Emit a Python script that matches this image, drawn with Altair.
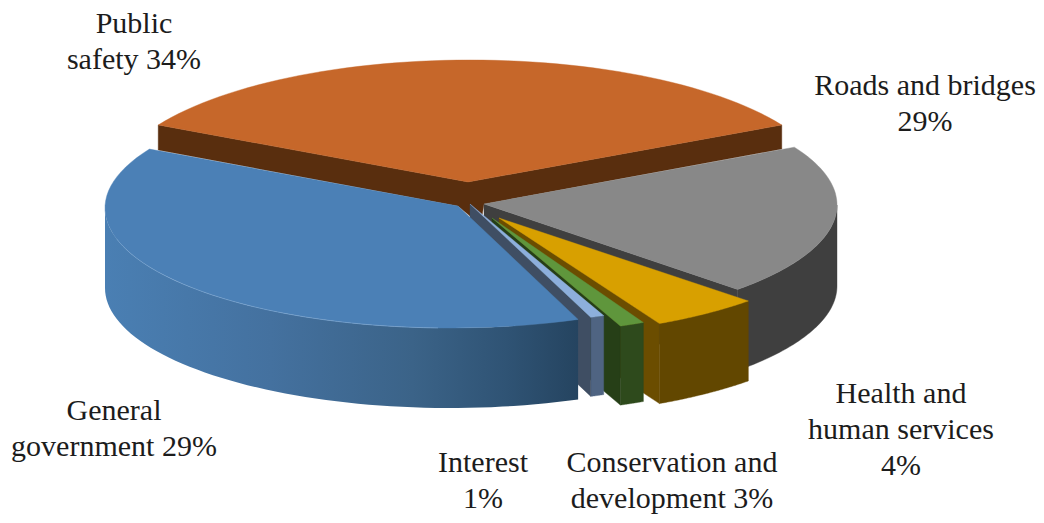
import math
import altair as alt
import pandas as pd

# ---- data
categories = ["Public safety", "Roads and bridges", "Health and human services",
              "Conservation and development", "Interest", "General government"]
shares = [34, 29, 4, 3, 1, 29]
label_lines = [
    ["Public", "safety {}%"],
    ["Roads and bridges", "{}%"],
    ["Health and", "human services", "{}%"],
    ["Conservation and", "development {}%"],
    ["Interest", "{}%"],
    ["General", "government {}%"],
]
# where each slice's rim starts / ends on its own ellipse (degrees, clockwise on screen)
rim_start = [210.0, -28.3, 44.8, 63.6, 67.2, 68.2]
rim_end = [330.0, 43.8, 62.9, 67.8, 69.5, 209.4]

# ---- layout of the drawing (page pixels of the reference)
OFF = 8
W, H = 1028, 507
ellipse = {  # cx, cy, rx, ry
    "Public safety": (470, 190, 360, 130),
    "Roads and bridges": (480, 205, 357, 122),
    "Health and human services": (500, 215, 350, 122),
    "Conservation and development": (490, 215, 345, 120),
    "Interest": (470, 205, 345, 120),
    "General government": (450, 208, 345, 120),
}
apex = {
    "Public safety": (468, 182),
    "Roads and bridges": (484, 204),
    "Health and human services": (499, 218),
    "Conservation and development": (492, 218),
    "Interest": (470, 204),
    "General government": (458, 206),
}
depth = {
    "Public safety": 24,
    "Roads and bridges": 81,
    "Health and human services": 80,
    "Conservation and development": 79,
    "Interest": 79,
    "General government": 80,
}
colors = {  # top, side, wall
    "Public safety": ("#c6672a", "#592e0e", "#592e0e"),
    "Roads and bridges": ("#888888", "#3f3f3f", "#3f3f3f"),
    "Health and human services": ("#d8a000", "#624700", "#6b4d00"),
    "Conservation and development": ("#5f963c", "#2e4a1c", "#263f17"),
    "Interest": ("#8dafdc", "#4f6482", "#3f4e63"),
    "General government": ("#4b80b6", "#3f3f3f", "#3f3f3f"),
}
BLUE_SIDE = [(0.0, "#4a7fb3"), (0.35, "#44719f"), (0.65, "#3b6388"), (0.85, "#2f5374"), (1.0, "#254460")]
label_pos = [  # centre x, first line y, reference pixels
    (134, 24), (925, 86), (901, 394), (672, 463), (483, 463), (114, 411),
]
LINE = 36


def pt(name, deg, dy=0):
    cx, cy, rx, ry = ellipse[name]
    a = math.radians(deg)
    return [cx + rx * math.cos(a) - OFF, cy + ry * math.sin(a) + dy - OFF]


def arc(name, a0, a1, dy=0, n=60):
    return [pt(name, a0 + (a1 - a0) * i / n, dy) for i in range(n + 1)]


def P(p, dy=0):
    return [p[0] - OFF, p[1] + dy - OFF]


def feat(points, fill=None):
    ring = list(points) + [points[0]]
    return {"type": "Feature", "geometry": {"type": "Polygon", "coordinates": [ring]},
            "properties": {}, "fill": fill}


back, front = [], []
starts = dict(zip(categories, rim_start))
ends = dict(zip(categories, rim_end))

# Orange slice: two cut walls, then the top
n = "Public safety"
a = apex[n]
l, r = pt(n, starts[n]), pt(n, ends[n])
back.append(feat([P(a), r, [r[0], r[1] + 24], P((484, 204)), P((482, 216)), P((470, 216)),
                  P((458, 206)), [l[0], l[1] + 25], l], colors[n][2]))
back.append(feat([P(a)] + arc(n, starts[n], ends[n]), colors[n][0]))

# Slices in painter's order, back to front: rim side, cut wall, top
for n in categories[1:-1]:
    top, side, wall = colors[n]
    s, e, d, a = starts[n], ends[n], depth[n], apex[n]
    vis = max(s, 0)
    back.append(feat(arc(n, vis, e) + arc(n, e, vis, d), side))
    q = pt(n, e)
    back.append(feat([P(a), q, [q[0], q[1] + d], P(a, d)], wall))
    back.append(feat([P(a)] + arc(n, s, e), top))

# Blue slice: rim side with a gradient, then the top
n = "General government"
s, e, d, a = starts[n], ends[n], depth[n], apex[n]
blue_side = feat(arc(n, s, 180) + arc(n, 180, s, d))
front.append(feat([P(a)] + arc(n, s, e), colors[n][0]))

# faint light edge on the blue rim
rim_line = {"type": "Feature",
            "geometry": {"type": "LineString", "coordinates": arc(n, 92, 165, 0, 60)},
            "properties": {}}

rows = []
for lines, v, (cx, y0) in zip(label_lines, shares, label_pos):
    for i, t in enumerate(lines):
        rows.append({"t": t.format(v), "x": cx - OFF, "y": y0 + i * LINE - OFF})
text_df = pd.DataFrame(rows)

proj = dict(type="identity", scale=1, translate=[0, 0])


def solid(feats):
    return alt.Chart(alt.Data(values=feats)).mark_geoshape(strokeWidth=0.4).encode(
        fill=alt.Fill("fill:N", scale=None),
        stroke=alt.Stroke("fill:N", scale=None),
    ).project(**proj)


side_layer = alt.Chart(alt.Data(values=[blue_side])).mark_geoshape(
    fill=alt.Gradient(gradient="linear", x1=0, x2=1, y1=0, y2=0,
                      stops=[alt.GradientStop(offset=o, color=c) for o, c in BLUE_SIDE]),
    strokeWidth=0,
).project(**proj)

highlight = alt.Chart(alt.Data(values=[rim_line])).mark_geoshape(
    filled=False, stroke="#7fa8d3", strokeWidth=1, opacity=0.6).project(**proj)

labels = alt.Chart(text_df).mark_text(
    font="Liberation Serif", fontSize=30, color="#1c1c1c", align="center", baseline="middle"
).encode(
    x=alt.X("x:Q", scale=alt.Scale(domain=[0, W], range=[0, W]), axis=None),
    y=alt.Y("y:Q", scale=alt.Scale(domain=[0, H], range=[0, H]), axis=None),
    text="t:N",
)

chart = alt.layer(solid(back), side_layer, solid(front), highlight, labels).properties(
    width=W, height=H, padding=0, background="white",
    autosize=alt.AutoSizeParams(type="none"),
).configure_view(stroke=None)

chart.save("out.html", embed_options={"renderer": "svg", "actions": False})
